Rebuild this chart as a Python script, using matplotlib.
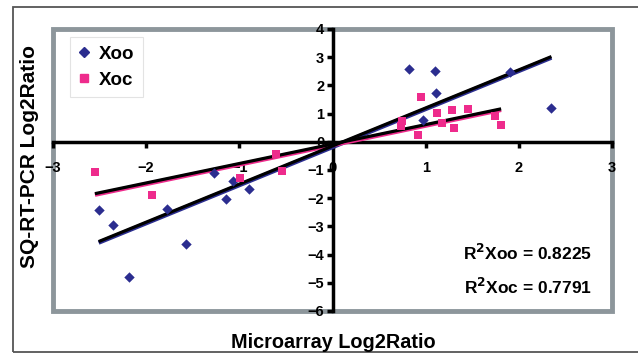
import numpy as np
import matplotlib
matplotlib.use("Agg")
import matplotlib.pyplot as plt
from matplotlib.patches import Rectangle
from matplotlib.lines import Line2D

plt.rcParams["font.family"] = ["Liberation Sans", "DejaVu Sans"]
plt.rcParams["font.weight"] = "bold"

# Xoo (blue diamonds)
xoo_x = [0.82, 1.10, 1.11, 1.90, 2.35, 0.97,
         -2.51, -2.36, -2.18, -1.78, -1.57, -1.27, -1.14, -1.07, -0.90]
xoo_y = [2.59, 2.50, 1.72, 2.46, 1.21, 0.76,
         -2.43, -2.94, -4.81, -2.38, -3.62, -1.09, -2.04, -1.39, -1.68]

# Xoc (pink squares)
xoc_x = [0.95, 0.75, 0.73, 0.92, 1.12, 1.18, 1.28, 1.30, 1.45, 1.74, 1.81,
         -2.55, -1.94, -0.99, -0.61, -0.54]
xoc_y = [1.60, 0.74, 0.55, 0.23, 1.03, 0.68, 1.12, 0.50, 1.18, 0.91, 0.58,
         -1.06, -1.89, -1.30, -0.43, -1.05]

# linear trend lines (slope, intercept) and R^2
xoo_fit = (1.35, -0.15)
xoc_fit = (0.69, -0.08)
r2_xoo = 0.8225
r2_xoc = 0.7791

xticks = [-3, -2, -1, 0, 1, 2, 3]
yticks = [-6, -5, -4, -3, -2, -1, 0, 1, 2, 3, 4]

blue = "#2b2d8f"
pink = "#ee2b8c"
frame_gray = "#8d969b"

fig = plt.figure(figsize=(6.38, 3.54), dpi=100)
fig.patches.append(Rectangle((12.5 / 638, 1 - 352 / 354), 1.1, (352 - 7) / 354,
                             transform=fig.transFigure, fill=False,
                             edgecolor="#555555", linewidth=1.3))
ax = fig.add_axes([53 / 638, 1 - 311 / 354, 559 / 638, 282 / 354])

ax.set_xlim(-3, 3)
ax.set_ylim(-6, 4)

# trend lines
for xs, fit, col in [(xoo_x, xoo_fit, blue), (xoc_x, xoc_fit, pink)]:
    lx = np.array([min(xs), max(xs)])
    ly = fit[0] * lx + fit[1]
    ax.plot(lx, ly - 0.04, color=col, lw=3.0, zorder=3, solid_capstyle="butt")
    ax.plot(lx, ly, color="black", lw=2.3, zorder=4, solid_capstyle="butt")

ax.scatter(xoo_x, xoo_y, marker="D", s=28, color=blue, zorder=5, linewidths=0)
ax.scatter(xoc_x, xoc_y, marker="s", s=32, color=pink, zorder=5, linewidths=0)

# axes crossing at zero
for side in ["top", "right"]:
    ax.spines[side].set_visible(False)
for side in ["left", "bottom"]:
    ax.spines[side].set_position("zero")
    ax.spines[side].set_linewidth(2.5)
    ax.spines[side].set_zorder(2)
ax.set_xticks(xticks)
ax.set_yticks(yticks)
ax.tick_params(axis="both", direction="out", length=4, width=2.5,
               labelsize=10.5)
ax.tick_params(axis="x", pad=10)
ax.tick_params(axis="y", pad=2)

ax.add_patch(Rectangle((0, 0), 1, 1, transform=ax.transAxes, fill=False,
                       edgecolor=frame_gray, linewidth=3.5, clip_on=False,
                       zorder=1))

handles = [
    Line2D([], [], marker="D", color=blue, linestyle="none", markersize=5),
    Line2D([], [], marker="s", color=pink, linestyle="none", markersize=5.5),
]
leg = ax.legend(handles, ["Xoo", "Xoc"], loc="upper left",
                bbox_to_anchor=(0.03, 0.97), frameon=True, fancybox=False,
                prop={"size": 13.5, "weight": "bold"}, handlelength=0.6,
                handletextpad=0.5, labelspacing=0.45, borderpad=0.45,
                borderaxespad=0)
leg.get_frame().set_edgecolor("#dddddd")
leg.get_frame().set_linewidth(0.8)

ax.text(0.965, 0.205, f"R$^2$Xoo = {r2_xoo:.4f}", transform=ax.transAxes,
        ha="right", va="center", fontsize=12.5, fontweight="bold")
ax.text(0.965, 0.085, f"R$^2$Xoc = {r2_xoc:.4f}", transform=ax.transAxes,
        ha="right", va="center", fontsize=12.5, fontweight="bold")

fig.text(333 / 638, 1 - 342 / 354, "Microarray Log2Ratio", ha="center",
         va="center", fontsize=14.3, fontweight="bold")
fig.text(30 / 638, 1 - 157 / 354, "SQ-RT-PCR Log2Ratio", ha="center",
         va="center", rotation=90, fontsize=15, fontweight="bold")

fig.savefig("out.png", dpi=100)
